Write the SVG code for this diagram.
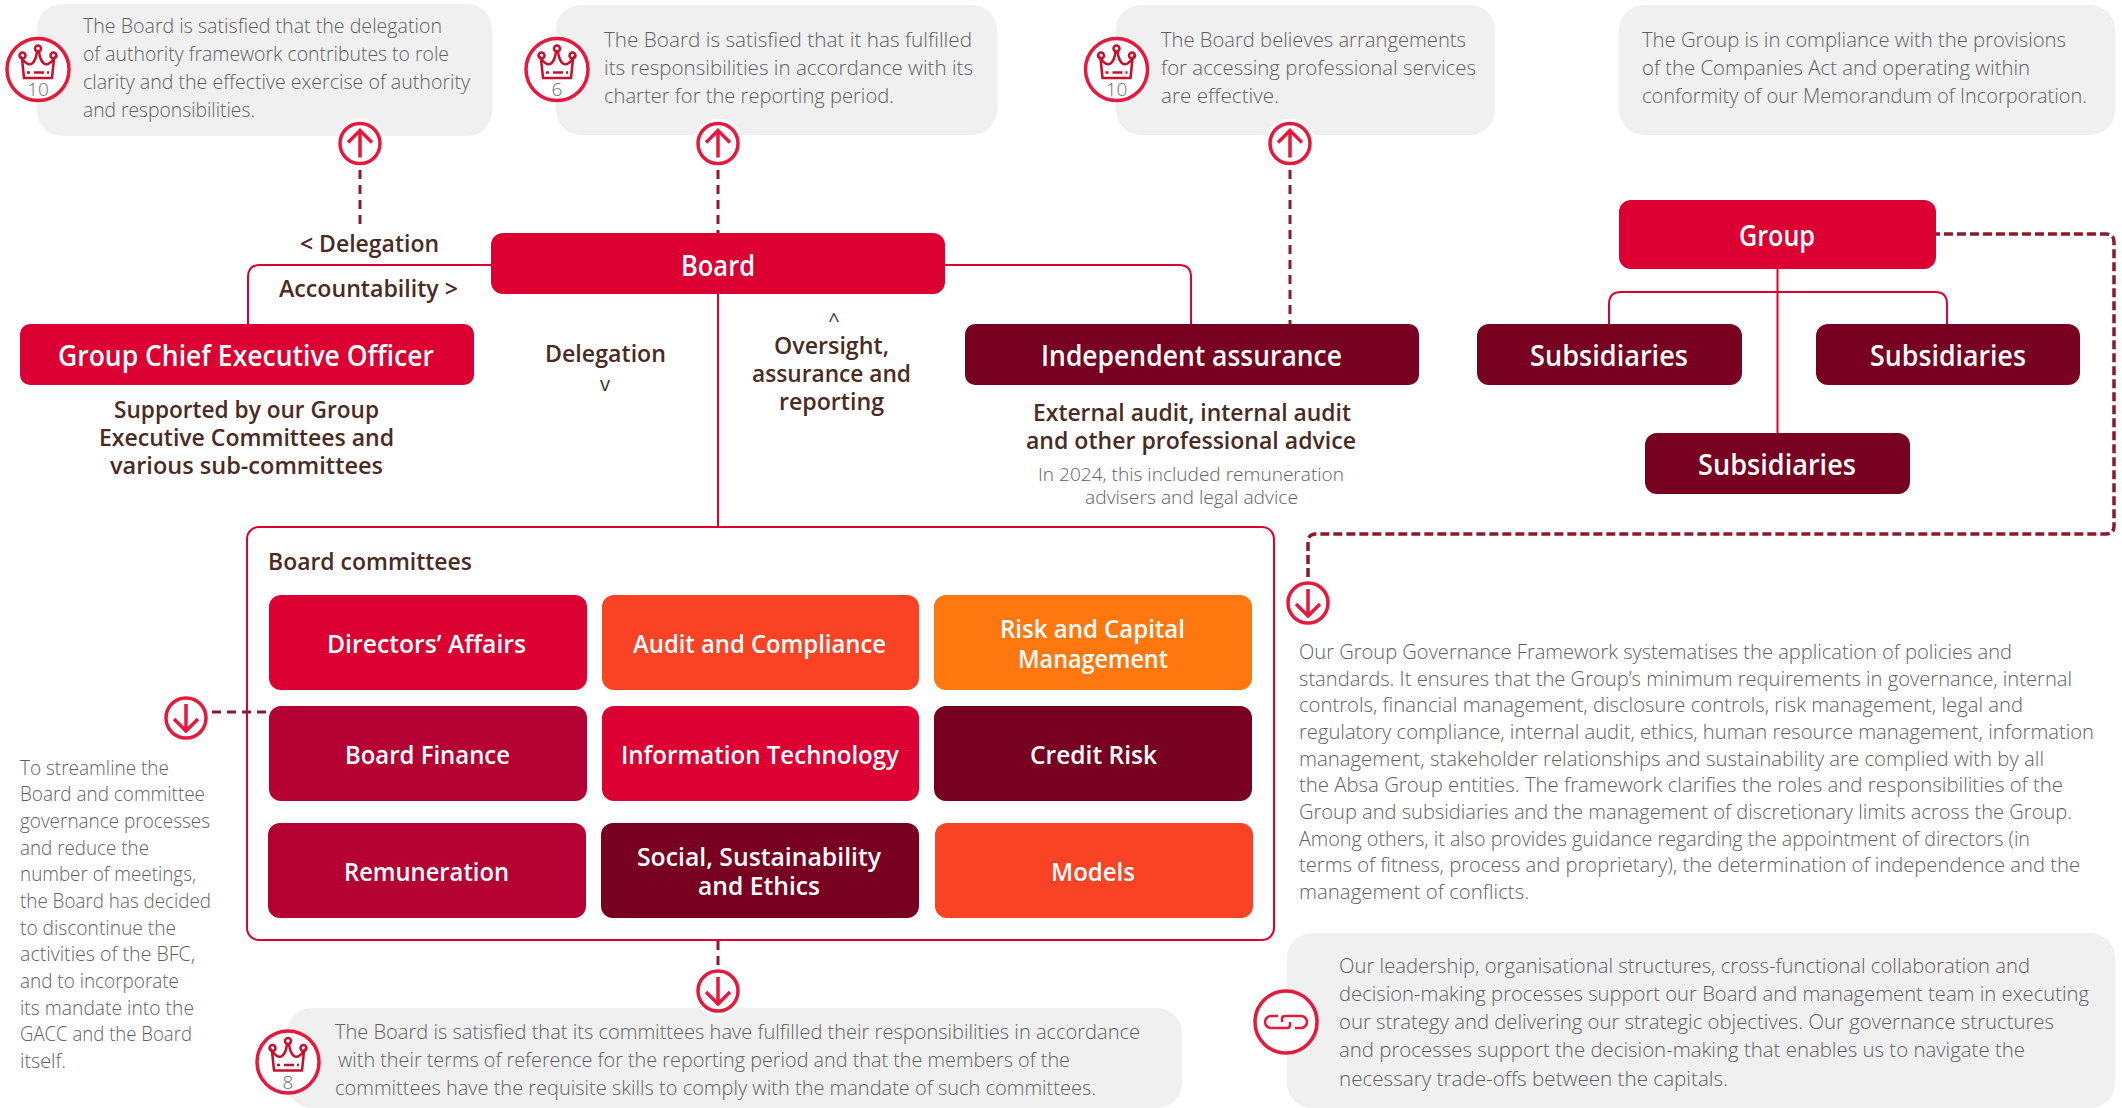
<svg xmlns="http://www.w3.org/2000/svg" width="2122" height="1108" viewBox="0 0 2122 1108">
<style>
text{font-family:"Open Sans","Noto Sans","Liberation Sans",sans-serif}
.bub{fill:#f0f0f0}
.body{font-size:20px;font-weight:300;fill:#5f6062}
.lbl{font-size:25px;font-weight:600;fill:#fff}
.big{font-size:28px;font-weight:600;fill:#fff}
.dk{font-size:23.5px;font-weight:600;fill:#4b2a23}
.sm{font-size:18px;font-weight:300;fill:#5f6062}
.ch{font-size:20px;font-weight:400;fill:#4b2a23;text-anchor:middle}
.ln{fill:none;stroke:#dc0032;stroke-width:2}
.dash{fill:none;stroke:#8a1a2a;stroke-width:3;stroke-dasharray:9 6}
.dash2{fill:none;stroke:#8a1a2a;stroke-width:3.5;stroke-dasharray:9 4}
.num{font-size:19px;font-weight:300;fill:#6d6e70;text-anchor:middle}
.red{fill:#dc0032}.mid{fill:#b40032}.dark{fill:#780020}.org{fill:#fa4224}.amb{fill:#ff780f}
</style>
<defs>
<g id="crown"><circle r="31" fill="#fff" stroke="#e8173c" stroke-width="3.5"/>
<g fill="none" stroke="#c8102e" stroke-width="2.5"><circle cx="-15.500" cy="-14" r="3"/><circle cx="15.500" cy="-14" r="3"/><circle cx="0" cy="-21" r="3"/><path d="M-14 8.500L-16 -11Q-10 -3 -6 -6Q-2 -9 -1 -18M14 8.500L16 -11Q10 -3 6 -6Q2 -9 1 -18M-15 8.500H15M-11 3H-8M-4 3H6M9 3H11"/></g></g>
<g id="up"><circle r="25" fill="#fff"/><circle r="20" fill="#fff" stroke="#e8173c" stroke-width="3.5"/><path d="M0 14V-13M-12 -1L0 -13L12 -1" fill="none" stroke="#e8173c" stroke-width="3.5"/></g>
<g id="down"><circle r="20" fill="#fff" stroke="#e8173c" stroke-width="3.5"/><path d="M0 -14V13M-12 1L0 13L12 1" fill="none" stroke="#e8173c" stroke-width="3.5"/></g>
</defs>
<rect width="2122" height="1108" fill="#fff"/>
<g id="bubbles">
<rect class="bub" x="37" y="4" width="455" height="132" rx="25"/>
<rect class="bub" x="556" y="5" width="441" height="130" rx="25"/>
<rect class="bub" x="1116" y="5" width="379" height="130" rx="25"/>
<rect class="bub" x="1619" y="5" width="496" height="130" rx="25"/>
<rect class="bub" x="287" y="1008" width="895" height="100" rx="25"/>
<rect class="bub" x="1287" y="933" width="828" height="175" rx="25"/>
</g>
<g id="n-committees"><rect x="247" y="527" width="1027" height="413" rx="12" fill="#fff" stroke="#dc0032" stroke-width="2"/><text class="dk" x="268" y="570" textLength="204" lengthAdjust="spacingAndGlyphs">Board committees</text></g>
<g id="connectors">
<path class="ln" d="M491 265H260Q248 265 248 277V324M945 265H1179Q1191 265 1191 277V324M718 294V527"/>
<path class="ln" d="M1777.5 269V433M1609 324V304Q1609 292 1621 292H1935Q1947 292 1947 304V324"/>
<path class="dash" d="M360 170V230M718 170V233M1290 170V324M212 712H269M718 941V970"/>
<path class="dash2" d="M1308 577V542Q1308 534 1316 534H2106Q2114 534 2114 526V242Q2114 234 2106 234H1936"/>
</g>
<g id="n-note1"><use href="#crown" x="38" y="69.5"/><text class="num" x="38" y="96">10</text>
<text class="body" x="83" y="33" textLength="359" lengthAdjust="spacingAndGlyphs">The Board is satisfied that the delegation</text><text class="body" x="83" y="61" textLength="366" lengthAdjust="spacingAndGlyphs">of authority framework contributes to role</text><text class="body" x="83" y="89" textLength="387" lengthAdjust="spacingAndGlyphs">clarity and the effective exercise of authority</text><text class="body" x="83" y="117" textLength="172" lengthAdjust="spacingAndGlyphs">and responsibilities.</text></g>
<g id="n-note2"><use href="#crown" x="557" y="69.5"/><text class="num" x="557" y="96">6</text>
<text class="body" x="604" y="47" textLength="368" lengthAdjust="spacingAndGlyphs">The Board is satisfied that it has fulfilled</text><text class="body" x="604" y="75" textLength="369" lengthAdjust="spacingAndGlyphs">its responsibilities in accordance with its</text><text class="body" x="604" y="103" textLength="290" lengthAdjust="spacingAndGlyphs">charter for the reporting period.</text></g>
<g id="n-note3"><use href="#crown" x="1116.5" y="69.5"/><text class="num" x="1116.5" y="96">10</text>
<text class="body" x="1161" y="47" textLength="305" lengthAdjust="spacingAndGlyphs">The Board believes arrangements</text><text class="body" x="1161" y="75" textLength="315" lengthAdjust="spacingAndGlyphs">for accessing professional services</text><text class="body" x="1161" y="103" textLength="118" lengthAdjust="spacingAndGlyphs">are effective.</text></g>
<g id="n-note4"><text class="body" x="1642" y="47" textLength="424" lengthAdjust="spacingAndGlyphs">The Group is in compliance with the provisions</text><text class="body" x="1642" y="75" textLength="388" lengthAdjust="spacingAndGlyphs">of the Companies Act and operating within</text><text class="body" x="1642" y="103" textLength="445" lengthAdjust="spacingAndGlyphs">conformity of our Memorandum of Incorporation.</text></g>
<g id="arrows"><use href="#up" x="360" y="143.5"/><use href="#up" x="718" y="143.5"/><use href="#up" x="1290" y="143.5"/><use href="#down" x="1308" y="603"/><use href="#down" x="186" y="718"/><use href="#up" transform="translate(718 991) rotate(180)"/></g>
<g id="n-labels">
<text class="dk" x="300" y="252" textLength="139" lengthAdjust="spacingAndGlyphs">&lt; Delegation</text>
<text class="dk" x="279" y="297" textLength="179" lengthAdjust="spacingAndGlyphs">Accountability &gt;</text>
<text class="dk" x="545" y="362" textLength="121" lengthAdjust="spacingAndGlyphs">Delegation</text><text class="ch" x="605" y="391">v</text>
<text class="ch" x="834" y="327">^</text><text class="dk" x="774" y="354" textLength="115" lengthAdjust="spacingAndGlyphs">Oversight,</text><text class="dk" x="752" y="382" textLength="159" lengthAdjust="spacingAndGlyphs">assurance and</text><text class="dk" x="779" y="410" textLength="105" lengthAdjust="spacingAndGlyphs">reporting</text>
</g>
<g id="n-board"><rect class="red" x="491" y="233" width="454" height="61" rx="12"/><text class="big" x="681" y="276" textLength="74" lengthAdjust="spacingAndGlyphs">Board</text></g>
<g id="n-gceo"><rect class="red" x="20" y="324" width="454" height="61" rx="10"/><text class="big" x="58" y="366" textLength="376" lengthAdjust="spacingAndGlyphs">Group Chief Executive Officer</text>
<text class="dk" x="114" y="418" textLength="265" lengthAdjust="spacingAndGlyphs">Supported by our Group</text><text class="dk" x="99" y="446" textLength="295" lengthAdjust="spacingAndGlyphs">Executive Committees and</text><text class="dk" x="110" y="474" textLength="273" lengthAdjust="spacingAndGlyphs">various sub-committees</text></g>
<g id="n-ia"><rect class="dark" x="965" y="324" width="454" height="61" rx="10"/><text class="big" x="1041" y="366" textLength="301" lengthAdjust="spacingAndGlyphs">Independent assurance</text>
<text class="dk" x="1033" y="421" textLength="318" lengthAdjust="spacingAndGlyphs">External audit, internal audit</text><text class="dk" x="1026" y="449" textLength="330" lengthAdjust="spacingAndGlyphs">and other professional advice</text>
<text class="sm" x="1038" y="481" textLength="306" lengthAdjust="spacingAndGlyphs">In 2024, this included remuneration</text><text class="sm" x="1085" y="504" textLength="213" lengthAdjust="spacingAndGlyphs">advisers and legal advice</text></g>
<g id="n-group"><rect class="red" x="1619" y="200" width="317" height="69" rx="12"/><text class="big" x="1739" y="246" textLength="76" lengthAdjust="spacingAndGlyphs">Group</text></g>
<g id="n-sub1"><rect class="dark" x="1477" y="324" width="265" height="61" rx="12"/><text class="big" x="1530" y="366" textLength="158" lengthAdjust="spacingAndGlyphs">Subsidiaries</text></g>
<g id="n-sub2"><rect class="dark" x="1816" y="324" width="264" height="61" rx="12"/><text class="big" x="1870" y="366" textLength="156" lengthAdjust="spacingAndGlyphs">Subsidiaries</text></g>
<g id="n-sub3"><rect class="dark" x="1645" y="433" width="265" height="61" rx="12"/><text class="big" x="1698" y="475" textLength="158" lengthAdjust="spacingAndGlyphs">Subsidiaries</text></g>
<g id="n-da"><rect class="red" x="269" y="595" width="318" height="95" rx="12"/><text class="lbl" x="327" y="653" textLength="199" lengthAdjust="spacingAndGlyphs">Directors’ Affairs</text></g>
<g id="n-ac"><rect class="org" x="602" y="595" width="317" height="95" rx="12"/><text class="lbl" x="633" y="653" textLength="253" lengthAdjust="spacingAndGlyphs">Audit and Compliance</text></g>
<g id="n-rc"><rect class="amb" x="934" y="595" width="318" height="95" rx="12"/><text class="lbl" x="1000" y="638" textLength="185" lengthAdjust="spacingAndGlyphs">Risk and Capital</text><text class="lbl" x="1018" y="668" textLength="150" lengthAdjust="spacingAndGlyphs">Management</text></g>
<g id="n-bf"><rect class="mid" x="269" y="706" width="318" height="95" rx="12"/><text class="lbl" x="345" y="764" textLength="165" lengthAdjust="spacingAndGlyphs">Board Finance</text></g>
<g id="n-it"><rect class="red" x="602" y="706" width="317" height="95" rx="12"/><text class="lbl" x="621" y="764" textLength="278" lengthAdjust="spacingAndGlyphs">Information Technology</text></g>
<g id="n-cr"><rect class="dark" x="934" y="706" width="318" height="95" rx="12"/><text class="lbl" x="1030" y="764" textLength="127" lengthAdjust="spacingAndGlyphs">Credit Risk</text></g>
<g id="n-rem"><rect class="mid" x="268" y="823" width="318" height="95" rx="12"/><text class="lbl" x="344" y="881" textLength="165" lengthAdjust="spacingAndGlyphs">Remuneration</text></g>
<g id="n-soc"><rect class="dark" x="601" y="823" width="318" height="95" rx="12"/><text class="lbl" x="637" y="866" textLength="244" lengthAdjust="spacingAndGlyphs">Social, Sustainability</text><text class="lbl" x="698" y="895" textLength="122" lengthAdjust="spacingAndGlyphs">and Ethics</text></g>
<g id="n-mod"><rect class="org" x="935" y="823" width="318" height="95" rx="12"/><text class="lbl" x="1051" y="881" textLength="84" lengthAdjust="spacingAndGlyphs">Models</text></g>
<g id="n-left"><text class="body" x="20" y="775" textLength="149" lengthAdjust="spacingAndGlyphs">To streamline the</text><text class="body" x="20" y="801" textLength="185" lengthAdjust="spacingAndGlyphs">Board and committee</text><text class="body" x="20" y="828" textLength="190" lengthAdjust="spacingAndGlyphs">governance processes</text><text class="body" x="20" y="855" textLength="129" lengthAdjust="spacingAndGlyphs">and reduce the</text><text class="body" x="20" y="881" textLength="176" lengthAdjust="spacingAndGlyphs">number of meetings,</text><text class="body" x="20" y="908" textLength="191" lengthAdjust="spacingAndGlyphs">the Board has decided</text><text class="body" x="20" y="935" textLength="156" lengthAdjust="spacingAndGlyphs">to discontinue the</text><text class="body" x="20" y="961" textLength="175" lengthAdjust="spacingAndGlyphs">activities of the BFC,</text><text class="body" x="20" y="988" textLength="159" lengthAdjust="spacingAndGlyphs">and to incorporate</text><text class="body" x="20" y="1015" textLength="174" lengthAdjust="spacingAndGlyphs">its mandate into the</text><text class="body" x="20" y="1041" textLength="172" lengthAdjust="spacingAndGlyphs">GACC and the Board</text><text class="body" x="20" y="1068" textLength="46" lengthAdjust="spacingAndGlyphs">itself.</text></g>
<g id="n-note5"><use href="#crown" x="288" y="1062"/><text class="num" x="288" y="1088.500">8</text>
<text class="body" x="335" y="1039" textLength="805" lengthAdjust="spacingAndGlyphs">The Board is satisfied that its committees have fulfilled their responsibilities in accordance</text><text class="body" x="338" y="1067" textLength="732" lengthAdjust="spacingAndGlyphs">with their terms of reference for the reporting period and that the members of the</text><text class="body" x="335" y="1095" textLength="761" lengthAdjust="spacingAndGlyphs">committees have the requisite skills to comply with the mandate of such committees.</text></g>
<g id="n-right"><text class="body" x="1299" y="659" textLength="713" lengthAdjust="spacingAndGlyphs">Our Group Governance Framework systematises the application of policies and</text><text class="body" x="1299" y="686" textLength="773" lengthAdjust="spacingAndGlyphs">standards. It ensures that the Group’s minimum requirements in governance, internal</text><text class="body" x="1299" y="712" textLength="724" lengthAdjust="spacingAndGlyphs">controls, financial management, disclosure controls, risk management, legal and</text><text class="body" x="1299" y="739" textLength="795" lengthAdjust="spacingAndGlyphs">regulatory compliance, internal audit, ethics, human resource management, information</text><text class="body" x="1299" y="766" textLength="745" lengthAdjust="spacingAndGlyphs">management, stakeholder relationships and sustainability are complied with by all</text><text class="body" x="1299" y="792" textLength="764" lengthAdjust="spacingAndGlyphs">the Absa Group entities. The framework clarifies the roles and responsibilities of the</text><text class="body" x="1299" y="819" textLength="773" lengthAdjust="spacingAndGlyphs">Group and subsidiaries and the management of discretionary limits across the Group.</text><text class="body" x="1299" y="846" textLength="731" lengthAdjust="spacingAndGlyphs">Among others, it also provides guidance regarding the appointment of directors (in</text><text class="body" x="1299" y="872" textLength="781" lengthAdjust="spacingAndGlyphs">terms of fitness, process and proprietary), the determination of independence and the</text><text class="body" x="1299" y="899" textLength="230" lengthAdjust="spacingAndGlyphs">management of conflicts.</text></g>
<g id="n-note6"><circle cx="1286" cy="1022" r="31" fill="#fff" stroke="#e8173c" stroke-width="3.5"/><path d="M1278 1016H1271a6 6 0 0 0 0 12H1287q3 0 3 -3V1022M1295 1028H1301a6 6 0 0 0 0 -12H1285q-3 0 -3 3V1022" fill="none" stroke="#e8173c" stroke-width="2.5"/>
<text class="body" x="1339" y="973" textLength="691" lengthAdjust="spacingAndGlyphs">Our leadership, organisational structures, cross-functional collaboration and</text><text class="body" x="1339" y="1001" textLength="750" lengthAdjust="spacingAndGlyphs">decision-making processes support our Board and management team in executing</text><text class="body" x="1339" y="1029" textLength="715" lengthAdjust="spacingAndGlyphs">our strategy and delivering our strategic objectives. Our governance structures</text><text class="body" x="1339" y="1057" textLength="686" lengthAdjust="spacingAndGlyphs">and processes support the decision-making that enables us to navigate the</text><text class="body" x="1339" y="1086" textLength="389" lengthAdjust="spacingAndGlyphs">necessary trade-offs between the capitals.</text></g>
</svg>
